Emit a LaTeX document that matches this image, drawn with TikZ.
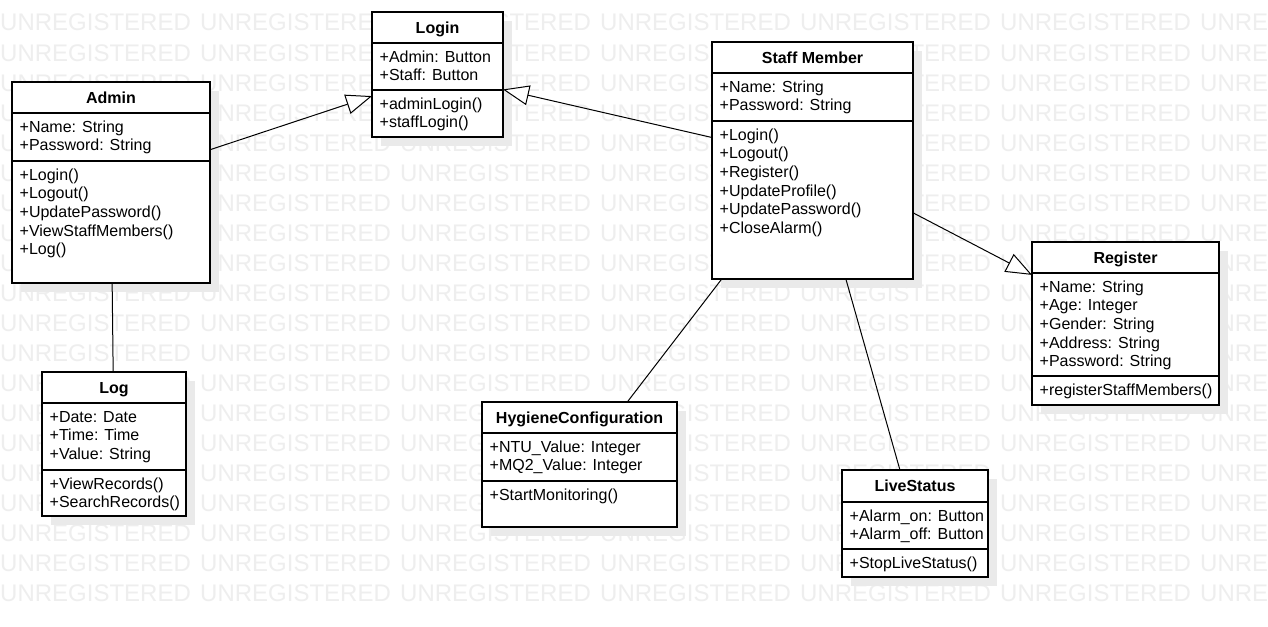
\documentclass[tikz,border=0pt]{standalone}
\usepackage{fontspec}
\setmainfont{Liberation Sans}
\usetikzlibrary{arrows.meta,fit}
\definecolor{wmcol}{RGB}{238,238,238}
\definecolor{shadowc}{RGB}{234,234,234}
\tikzset{
  wm/.style={text=wmcol, font=\fontsize{24}{24}\selectfont, inner sep=0pt, anchor=base west},
  classbox/.style={draw=black, fill=white, inner sep=0pt, outer sep=0pt, line width=1.2pt},
  classline/.style={draw=black, line width=1.2pt},
  titletext/.style={font=\fontsize{16}{19}\selectfont\bfseries, inner sep=0pt, anchor=base},
  itemtext/.style={font=\fontsize{16}{19}\selectfont, inner sep=0pt, anchor=base west},
  assoc/.style={draw=black, line width=1pt},
  gen/.style={draw=black, line width=1pt, -{Triangle[length=26pt, width=20pt, fill=white]}},
}
\newcommand\umlbox[8]{%
  \fill[shadowc] ({#2+9},{#3+9}) rectangle ({#4+9},{#7+9});
  \node[classbox, fit={(#2,#3) (#4,#7)}] (#1) {};
  \draw[classline] (#2,#5) -- (#4,#5);
  \draw[classline] (#2,#6) -- (#4,#6);
  \node[titletext] (#1-title) at ({(#2+#4)/2},{(#3+#5)/2+5.7}) {#8};
}
\newcommand\umllines[4]{%
  \foreach \t [count=\i] in {#4} {
    \node[itemtext] (#1-\i) at ({#2+7.5},{#3+19.3+(\i-1)*18.6}) {\t};
  }
}
\begin{document}
\begin{tikzpicture}[x=1pt, y=-1pt]
\useasboundingbox[fill=white] (0,0) rectangle (1268,626);
\begin{scope}
\clip (0,0) rectangle (1268,626);
\foreach \j in {0,...,6} {
  \foreach \k in {0,...,19} {
    \node[wm] (wm-\j-\k) at ({200*\j},{31+30*\k}) {UNREGISTERED};
  }
}
\end{scope}

% classes
\umlbox{admin}{12}{82}{210}{113}{161}{283}{Admin}
\umllines{admin-a}{12}{113}{+Name: String,+Password: String}
\umllines{admin-o}{12}{161}{+Login(),+Logout(),+UpdatePassword(),+ViewStaffMembers(),+Log()}

\umlbox{login}{372}{12}{503}{43}{90}{137}{Login}
\umllines{login-a}{372}{43}{+Admin: Button,+Staff: Button}
\umllines{login-o}{372}{90}{+adminLogin(),+staffLogin()}

\umlbox{staff}{712}{42}{913}{73}{121}{279}{Staff Member}
\umllines{staff-a}{712}{73}{+Name: String,+Password: String}
\umllines{staff-o}{712}{121}{+Login(),+Logout(),+Register(),+UpdateProfile(),+UpdatePassword(),+CloseAlarm()}

\umlbox{register}{1032}{242}{1219}{273}{376}{405}{Register}
\umllines{register-a}{1032}{273}{+Name: String,+Age: Integer,+Gender: String,+Address: String,+Password: String}
\umllines{register-o}{1032}{376}{+registerStaffMembers()}

\umlbox{log}{42}{372}{186}{403}{470}{516}{Log}
\umllines{log-a}{42}{403}{+Date: Date,+Time: Time,+Value: String}
\umllines{log-o}{42}{470}{+ViewRecords(),+SearchRecords()}

\umlbox{hygiene}{482}{402}{677}{433}{481}{527}{HygieneConfiguration}
\umllines{hygiene-a}{482}{433}{+NTU\_Value: Integer,+MQ2\_Value: Integer}
\umllines{hygiene-o}{482}{481}{+StartMonitoring()}

\umlbox{live}{842}{470}{988}{502}{549}{577}{LiveStatus}
\umllines{live-a}{842}{502}{+Alarm\_on: Button,+Alarm\_off: Button}
\umllines{live-o}{842}{549}{+StopLiveStatus()}

% connectors
\draw[gen] (admin) -- (login);
\draw[gen] (staff) -- (login);
\draw[gen] (staff) -- (register);
\draw[assoc] (admin) -- (log);
\draw[assoc] (staff) -- (hygiene);
\draw[assoc] (staff) -- (live);
\end{tikzpicture}
\end{document}
